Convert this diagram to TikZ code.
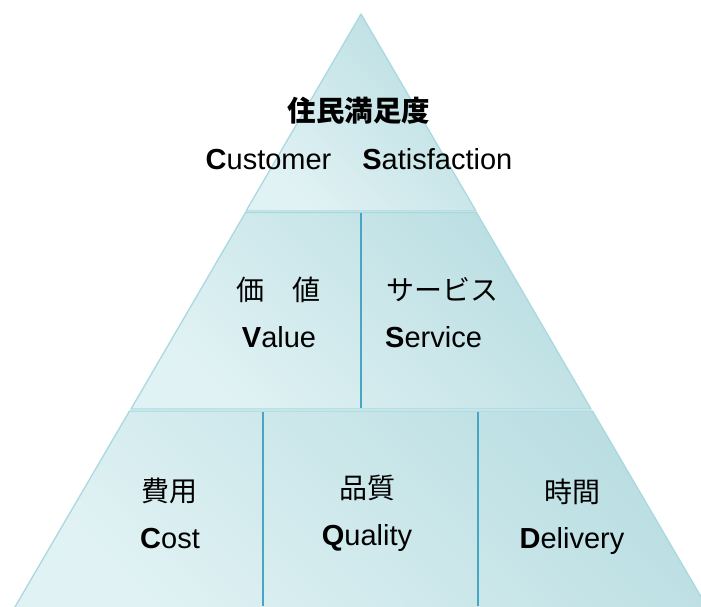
\documentclass[tikz,border=0pt]{standalone}
\usepackage{fontspec}
\setmainfont{Liberation Sans}
\newfontfamily\jpfont{Noto Sans CJK JP}

\definecolor{tierlight}{HTML}{E1F2F4}
\definecolor{tierdark}{HTML}{BADEE2}
\definecolor{tieredge}{HTML}{A9D9DF}
\definecolor{cellline}{HTML}{48A6C5}

\begin{document}
\begin{tikzpicture}[x=1pt,y=-1pt]
        \useasboundingbox (0,0) rectangle (701,606);
        \clip (0,0) rectangle (701,606);

        % three tiers
        \begin{scope}[every path/.style={draw=tieredge, line width=1.3pt, line join=round, top color=tierdark, bottom color=tierlight, shading angle=-45}]
                \path (361,14) -- (476,211) -- (246,211) -- cycle;
                \path (245.5,212.5) -- (476.5,212.5) -- (591,409) -- (131,409) -- cycle;
                \path (129.5,411) -- (592.5,411) -- (710,612) -- (12,612) -- cycle;
        \end{scope}

        \coordinate (m1) at (361,213);
        \coordinate (m2) at (361,408);
        \coordinate (b1) at (263,412);
        \coordinate (b2) at (263,606);
        \coordinate (b3) at (478,412);
        \coordinate (b4) at (478,606);

        \begin{scope}[every path/.style={draw=cellline, line width=2pt}]
                \path (m1) -- (m2);
                \path (b1) -- (b2);
                \path (b3) -- (b4);
        \end{scope}

        \begin{scope}[every node/.style={inner sep=0pt, font=\fontsize{29pt}{34pt}\selectfont}]
                \node [font=\jpfont\bfseries\fontsize{28.5pt}{34pt}\selectfont] (CSjp) at (359,111) {住民満足度};
                \node [anchor=base] (CSen) at (359,169) {\textbf{C}ustomer\hspace{31pt}\textbf{S}atisfaction};

                \node [font=\jpfont\fontsize{28pt}{34pt}\selectfont] (Vjp) at (278,290) {価　値};
                \node [anchor=base] (Ven) at (279,347) {\textbf{V}alue};
                \node [font=\jpfont\fontsize{28pt}{34pt}\selectfont, anchor=west] (Sjp) at (386,290) {サービス};
                \node [anchor=base west] (Sen) at (385,347) {\textbf{S}ervice};

                \node [font=\jpfont\fontsize{28pt}{34pt}\selectfont] (Cjp) at (169,491) {費用};
                \node [anchor=base] (Cen) at (170,548) {\textbf{C}ost};
                \node [font=\jpfont\fontsize{28pt}{34pt}\selectfont] (Qjp) at (367,488) {品質};
                \node [anchor=base] (Qen) at (367,545) {\textbf{Q}uality};
                \node [font=\jpfont\fontsize{28pt}{34pt}\selectfont] (Djp) at (572,492) {時間};
                \node [anchor=base] (Den) at (572,548) {\textbf{D}elivery};
        \end{scope}
\end{tikzpicture}
\end{document}
